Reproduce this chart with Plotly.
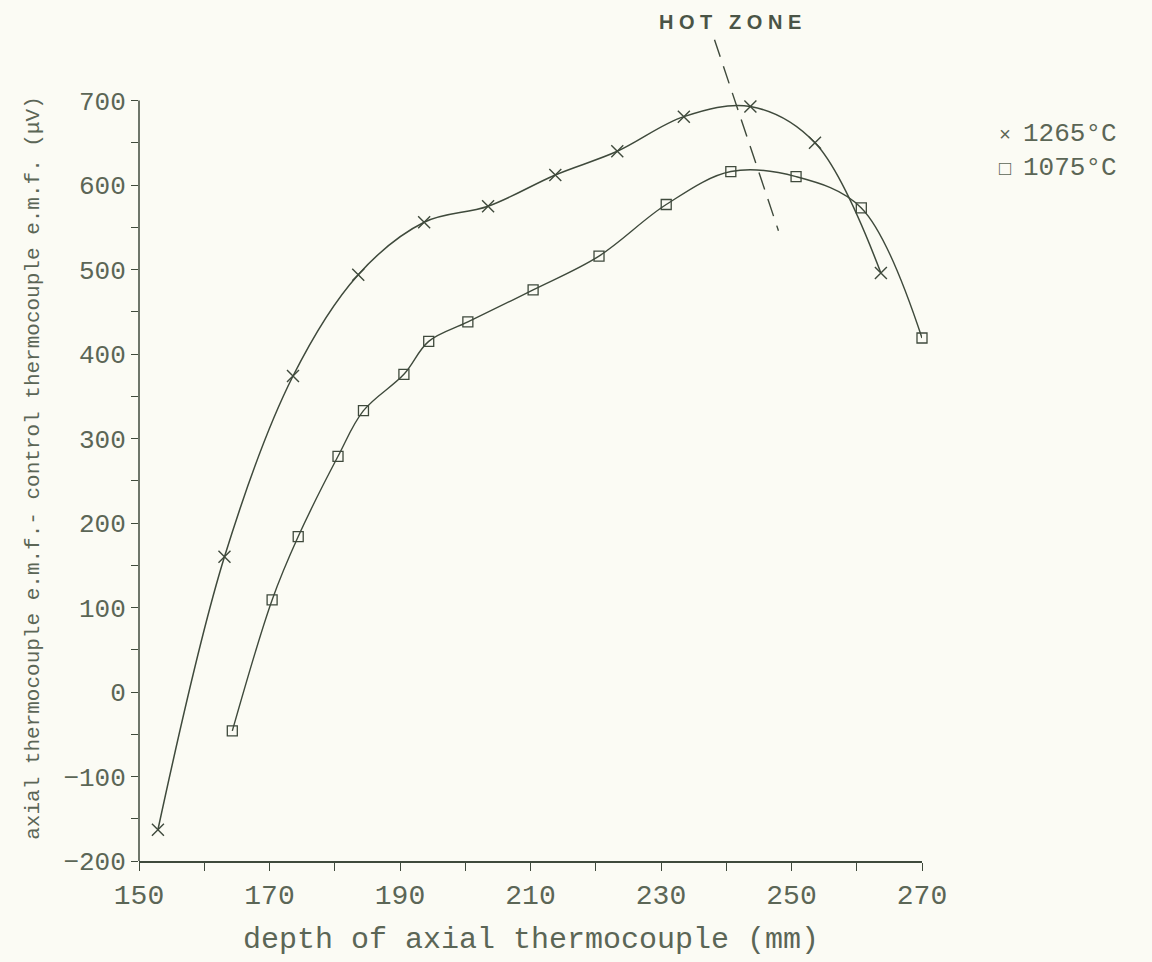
import plotly.graph_objects as go

# ---- data ----
depth_1265 = [152.9, 163.1, 173.6, 183.6, 193.7, 203.5, 213.8, 223.3, 233.5, 243.7, 253.6, 263.7]
emf_1265 = [-163, 160, 374, 494, 556, 575, 612, 640, 681, 693, 650, 496]

depth_1075 = [164.3, 170.4, 174.4, 180.5, 184.4, 190.6, 194.4, 200.4, 210.4, 220.5, 230.8, 240.7, 250.7, 260.7, 270.0]
emf_1075 = [-46, 109, 184, 279, 333, 376, 415, 438, 476, 516, 577, 616, 610, 573, 419]

hot_zone_x = [238.2, 248.0]
hot_zone_y = [772, 546]

x_ticks = [150, 170, 190, 210, 230, 250, 270]
x_minor = [160, 180, 200, 220, 240, 260]
y_ticks = [-200, -100, 0, 100, 200, 300, 400, 500, 600, 700]
y_minor = [-150, -50, 50, 150, 250, 350, 450, 550, 650]

series_names = ["1265°C", "1075°C"]
series_glyphs = ["×", "□"]

# ---- style ----
LINE = "#3f4a3c"
TEXT = "#5b6656"
BG = "#fbfbf4"
MONO = "Liberation Mono, DejaVu Sans Mono, monospace"

fig = go.Figure()

fig.add_trace(go.Scatter(
    x=depth_1265, y=emf_1265, mode="lines+markers", name=series_names[0],
    line=dict(color=LINE, width=1.5, shape="spline", smoothing=1.0),
    marker=dict(symbol="x-thin-open", size=12, color=LINE, line=dict(width=1.4, color=LINE)),
    showlegend=False, cliponaxis=False,
))
fig.add_trace(go.Scatter(
    x=depth_1075, y=emf_1075, mode="lines+markers", name=series_names[1],
    line=dict(color=LINE, width=1.4, shape="spline", smoothing=1.0),
    marker=dict(symbol="square-open", size=10, color=LINE, line=dict(width=1.3, color=LINE)),
    showlegend=False, cliponaxis=False,
))

# hot zone dashed line
fig.add_trace(go.Scatter(
    x=hot_zone_x, y=hot_zone_y, mode="lines",
    line=dict(color=LINE, width=1.4, dash="18px,10px"),
    showlegend=False, hoverinfo="skip",
))

# y axis line (only from -200 to 700)
fig.add_shape(type="line", xref="paper", yref="y", x0=0, x1=0,
              y0=y_ticks[0], y1=y_ticks[-1], line=dict(color=LINE, width=1.5))

fig.add_annotation(text="<b>H O T   Z O N E</b>", x=240.5, y=1.013, xref="x", yref="paper",
                   yanchor="middle", showarrow=False,
                   font=dict(family="Liberation Sans, Arial, sans-serif", size=20, color="#4a5446"))

# legend (marker glyph + label), one text block
legend_lines = [f"<span style='font-size:20px'>{g} </span>{n}" for g, n in zip(series_glyphs, series_names)]
fig.add_annotation(
    text="<br>".join(legend_lines), align="left",
    x=1.096, y=0.858, xref="paper", yref="paper", xanchor="left", yanchor="middle",
    showarrow=False, font=dict(family=MONO, size=26, color=TEXT))

fig.add_annotation(text="axial thermocouple e.m.f.- control thermocouple e.m.f. (μV)",
                   x=-0.152, y=266, xref="paper", yref="y", textangle=-90,
                   showarrow=False, font=dict(family=MONO, size=21, color=TEXT))
fig.add_annotation(text="depth of axial thermocouple (mm)",
                   x=0.5, y=-0.096, xref="paper", yref="paper", yanchor="middle",
                   showarrow=False, font=dict(family=MONO, size=30, color=TEXT))

fig.update_layout(
    width=1152, height=962,
    margin=dict(l=139, r=230, t=33, b=101),
    paper_bgcolor=BG, plot_bgcolor=BG,
    font=dict(family=MONO, color=TEXT),
    showlegend=False,
    xaxis=dict(range=[150, 270], tickvals=x_ticks, ticktext=[str(v) for v in x_ticks],
               showgrid=False, zeroline=False, showline=True, linecolor=LINE, linewidth=1.5,
               ticks="outside", ticklen=8, tickwidth=1.3, tickcolor=LINE,
               tickfont=dict(family=MONO, size=28, color=TEXT),
               minor=dict(tickvals=x_minor, ticks="outside", ticklen=8, tickwidth=1.3, tickcolor=LINE)),
    yaxis=dict(range=[-200, 780], tickvals=y_ticks, ticktext=[f"{v:d}".replace("-", "−") for v in y_ticks],
               showgrid=False, zeroline=False, showline=False,
               ticks="outside", ticklen=7, tickwidth=1.3, tickcolor=LINE,
               tickfont=dict(family=MONO, size=26, color=TEXT),
               minor=dict(tickvals=y_minor, ticks="outside", ticklen=7, tickwidth=1.3, tickcolor=LINE)),
)

fig.write_html("out.html")
